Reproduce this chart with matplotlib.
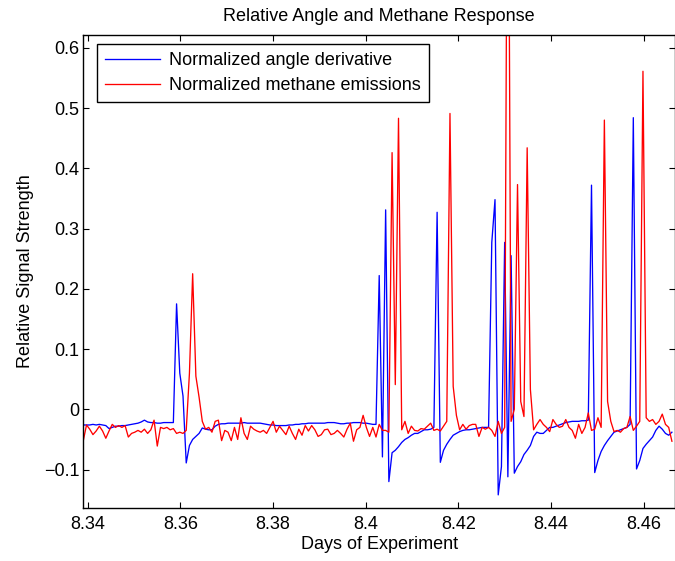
"""
Relative angle vs methane response — recreated MATLAB-style line chart.
"""

import numpy as np
import matplotlib
matplotlib.use("Agg")
import matplotlib.pyplot as plt
from matplotlib.ticker import FuncFormatter

plt.rcParams["font.family"] = ["Liberation Sans", "DejaVu Sans"]

# ── Data (one sample per minute, time in days) ────────────────────────────────
T0 = 8.33905
STEP = 1 / 1440

angle_deriv = [
    -0.026, -0.026, -0.026, -0.025, -0.026, -0.025, -0.026, -0.027, -0.032, -0.030,
    -0.028, -0.028, -0.027, -0.027, -0.026, -0.025, -0.024, -0.023, -0.021, -0.018,
    -0.021, -0.022, -0.022, -0.023, -0.023, -0.022, -0.022, -0.022, -0.022, 0.175,
    0.060, 0.022, -0.089, -0.060, -0.050, -0.045, -0.040, -0.031, -0.033, -0.034,
    -0.034, -0.028, -0.025, -0.024, -0.024, -0.023, -0.023, -0.023, -0.023, -0.023,
    -0.022, -0.023, -0.023, -0.023, -0.023, -0.023, -0.024, -0.025, -0.026, -0.026,
    -0.027, -0.027, -0.027, -0.027, -0.026, -0.026, -0.025, -0.025, -0.024, -0.024,
    -0.023, -0.023, -0.023, -0.023, -0.023, -0.023, -0.022, -0.022, -0.022, -0.023,
    -0.024, -0.024, -0.023, -0.023, -0.022, -0.022, -0.022, -0.023, -0.023, -0.024,
    -0.025, -0.025, 0.222, -0.079, 0.331, -0.120, -0.072, -0.068, -0.062, -0.055,
    -0.050, -0.047, -0.043, -0.040, -0.040, -0.037, -0.034, -0.034, -0.033, -0.030,
    0.327, -0.088, -0.068, -0.058, -0.050, -0.043, -0.040, -0.037, -0.035, -0.034,
    -0.034, -0.033, -0.032, -0.031, -0.030, -0.030, -0.030, 0.277, 0.348, -0.142,
    -0.095, 0.277, -0.112, 0.255, -0.106, -0.095, -0.087, -0.075, -0.068, -0.060,
    -0.045, -0.038, -0.040, -0.040, -0.035, -0.030, -0.030, -0.028, -0.026, -0.024,
    -0.022, -0.021, -0.020, -0.020, -0.020, -0.019, -0.019, -0.018, 0.372, -0.105,
    -0.085, -0.070, -0.060, -0.052, -0.045, -0.038, -0.036, -0.034, -0.032, -0.030,
    -0.025, 0.484, -0.099, -0.085, -0.065, -0.058, -0.052, -0.046, -0.035, -0.028,
    -0.033, -0.040, -0.043, -0.038,
]

methane = [
    -0.052, -0.026, -0.033, -0.042, -0.036, -0.028, -0.036, -0.048, -0.036, -0.025,
    -0.030, -0.027, -0.030, -0.027, -0.046, -0.040, -0.038, -0.035, -0.038, -0.033,
    -0.040, -0.034, -0.018, -0.061, -0.030, -0.032, -0.030, -0.034, -0.032, -0.040,
    -0.038, -0.040, -0.035, 0.060, 0.225, 0.055, 0.020, -0.020, -0.033, -0.030,
    -0.038, -0.020, -0.018, -0.052, -0.035, -0.038, -0.052, -0.030, -0.050, -0.014,
    -0.040, -0.050, -0.028, -0.033, -0.036, -0.038, -0.035, -0.040, -0.030, -0.020,
    -0.038, -0.028, -0.035, -0.042, -0.028, -0.040, -0.050, -0.033, -0.043, -0.027,
    -0.036, -0.027, -0.034, -0.045, -0.042, -0.034, -0.033, -0.042, -0.040, -0.035,
    -0.040, -0.046, -0.033, -0.023, -0.053, -0.034, -0.030, -0.010, -0.030, -0.045,
    -0.030, -0.046, -0.025, -0.035, -0.035, -0.038, 0.426, 0.041, 0.483, -0.034,
    -0.020, -0.040, -0.028, -0.035, -0.036, -0.032, -0.033, -0.028, -0.023, -0.035,
    -0.033, -0.036, -0.028, -0.020, 0.491, 0.038, -0.010, -0.034, -0.025, -0.033,
    -0.027, -0.025, -0.025, -0.045, -0.030, -0.033, -0.030, -0.035, -0.045, -0.020,
    -0.040, -0.030, 1.200, -0.020, 0.000, 0.373, 0.013, -0.012, 0.434, 0.033,
    -0.034, -0.025, -0.017, -0.025, -0.030, -0.037, -0.017, -0.025, -0.030, -0.028,
    -0.017, -0.030, -0.035, -0.048, -0.025, -0.040, -0.030, -0.006, -0.035, -0.033,
    -0.014, -0.030, 0.480, 0.013, -0.020, -0.037, -0.035, -0.038, -0.032, -0.030,
    -0.012, -0.035, -0.028, -0.020, 0.561, -0.014, -0.020, -0.017, -0.025, -0.020,
    -0.008, -0.025, -0.030, -0.053,
]

days = T0 + np.arange(len(methane)) * STEP

x_ticks = [8.34, 8.36, 8.38, 8.40, 8.42, 8.44, 8.46]
y_ticks = [-0.1, 0.0, 0.1, 0.2, 0.3, 0.4, 0.5, 0.6]

# ── Plot ──────────────────────────────────────────────────────────────────────
FS = 13
fig = plt.figure(figsize=(6.75, 5.61), dpi=100)
ax = fig.add_axes([0.1234, 0.095, 0.8766, 0.8426])

ax.plot(days, angle_deriv, color="#0000FF", linewidth=0.95,
        label="Normalized angle derivative")
ax.plot(days, methane, color="#FF0000", linewidth=0.95,
        label="Normalized methane emissions")

ax.set_xlim(T0, 8.4668)
ax.set_ylim(-0.1633, 0.6212)
ax.set_xticks(x_ticks)
ax.set_yticks(y_ticks)

fmt = FuncFormatter(lambda v, pos: f"{v:g}".replace("-", "\u2212"))
ax.xaxis.set_major_formatter(fmt)
ax.yaxis.set_major_formatter(fmt)

ax.tick_params(direction="in", top=True, right=True, length=4.3, width=0.8,
               labelsize=FS, colors="black")
ax.tick_params(axis="x", pad=6)
ax.tick_params(axis="y", pad=3)
for sp in ax.spines.values():
    sp.set_linewidth(1.0)
    sp.set_color("black")

ax.set_title("Relative Angle and Methane Response", fontsize=FS, pad=10)
ax.set_xlabel("Days of Experiment", fontsize=FS, labelpad=2)
ax.set_ylabel("Relative Signal Strength", fontsize=FS, labelpad=7)

leg = ax.legend(loc="upper left", bbox_to_anchor=(0.0226, 0.9803),
                borderaxespad=0, fontsize=FS, fancybox=False, framealpha=1,
                edgecolor="black", handlelength=3.05, handletextpad=0.5,
                labelspacing=0.43, borderpad=0.45)
leg.get_frame().set_linewidth(1.0)

fig.savefig("out.png", dpi=100)
plt.close(fig)
